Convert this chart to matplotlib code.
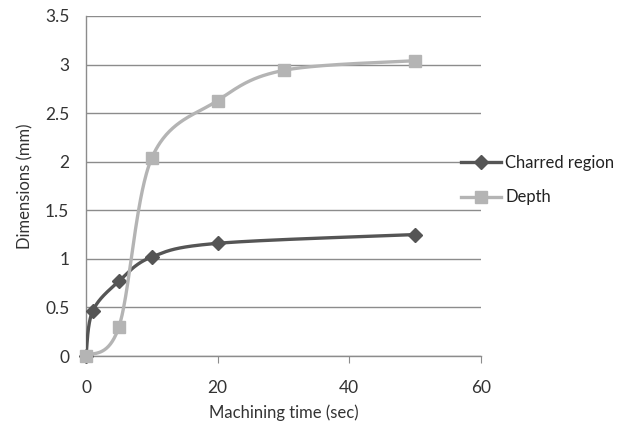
import numpy as np
import matplotlib
matplotlib.use("Agg")
import matplotlib.pyplot as plt
from matplotlib.lines import Line2D

time_charred = [0, 1, 5, 10, 20, 50]
charred = [0, 0.46, 0.77, 1.02, 1.16, 1.25]
time_depth = [0, 5, 10, 20, 30, 50]
depth = [0, 0.30, 2.04, 2.63, 2.94, 3.04]

x_ticks = [0, 20, 40, 60]
y_ticks = [0, 0.5, 1, 1.5, 2, 2.5, 3, 3.5]
x_label = "Machining time (sec)"
y_label = "Dimensions (mm)"
series_names = ["Charred region", "Depth"]


def smooth(xs, ys, n=60):
    # Excel-like smoothed line (cubic Bezier with Catmull-Rom control points)
    P = np.column_stack([xs, ys]).astype(float)
    out = []
    for i in range(len(P) - 1):
        p0 = P[i - 1] if i > 0 else P[i]
        p1 = P[i]
        p2 = P[i + 1]
        p3 = P[i + 2] if i + 2 < len(P) else P[i + 1]
        c1 = p1 + (p2 - p0) / 6.0
        c2 = p2 - (p3 - p1) / 6.0
        t = np.linspace(0, 1, n)[:, None]
        seg = ((1 - t) ** 3) * p1 + 3 * ((1 - t) ** 2) * t * c1 + 3 * (1 - t) * t ** 2 * c2 + t ** 3 * p2
        out.append(seg if i == 0 else seg[1:])
    s = np.vstack(out)
    return s[:, 0], s[:, 1]


plt.rcParams['font.family'] = ['Lato', 'DejaVu Sans']
fig = plt.figure(figsize=(6.22, 4.23), dpi=100)
ax = fig.add_axes([86 / 622, 1 - 356 / 423, (481 - 86) / 622, (356 - 16) / 423])

c_dark = "#555555"
c_light = "#b4b4b4"
txt = '#333333'

sx, sy = smooth(time_charred, charred)
ax.plot(sx, sy, color=c_dark, lw=2.4, zorder=3, solid_capstyle='round')
ax.plot(time_charred, charred, ls='none', marker='D', ms=7, color=c_dark, zorder=4, clip_on=False)

sx, sy = smooth(time_depth, depth)
ax.plot(sx, sy, color=c_light, lw=2.4, zorder=5, solid_capstyle='round')
ax.plot(time_depth, depth, ls='none', marker='s', ms=9, color=c_light, zorder=6, clip_on=False)

ax.set_xlim(0, 60)
ax.set_ylim(0, 3.5)
ax.set_xticks(x_ticks)
ax.set_yticks(y_ticks)
ax.set_yticklabels([("%g" % v) for v in y_ticks])
ax.grid(axis='y', color='#8c8c8c', lw=1.0)
ax.set_axisbelow(True)
for s in ['top', 'right']:
    ax.spines[s].set_visible(False)
for s in ['left', 'bottom']:
    ax.spines[s].set_color('#8c8c8c')
    ax.spines[s].set_linewidth(1.0)
ax.tick_params(axis='y', length=0, pad=12, labelsize=12.5, labelcolor=txt)
ax.tick_params(axis='x', length=5, direction='out', color='#8c8c8c', pad=12, labelsize=12.5, labelcolor=txt)
ax.set_xlabel(x_label, fontsize=12, color=txt, labelpad=6)
ax.set_ylabel(y_label, fontsize=12, color=txt, labelpad=8)

handles = [
    Line2D([], [], color=c_dark, lw=2.4, marker='D', ms=7),
    Line2D([], [], color=c_light, lw=2.4, marker='s', ms=9),
]
fig.legend(handles, series_names, loc='upper left', bbox_to_anchor=(446 / 622, 1 - 140 / 423),
           frameon=False, fontsize=12, handlelength=2.4, handletextpad=0.25, labelspacing=1.1,
           labelcolor='#222222')

fig.savefig("out.png", dpi=100, facecolor='white')
